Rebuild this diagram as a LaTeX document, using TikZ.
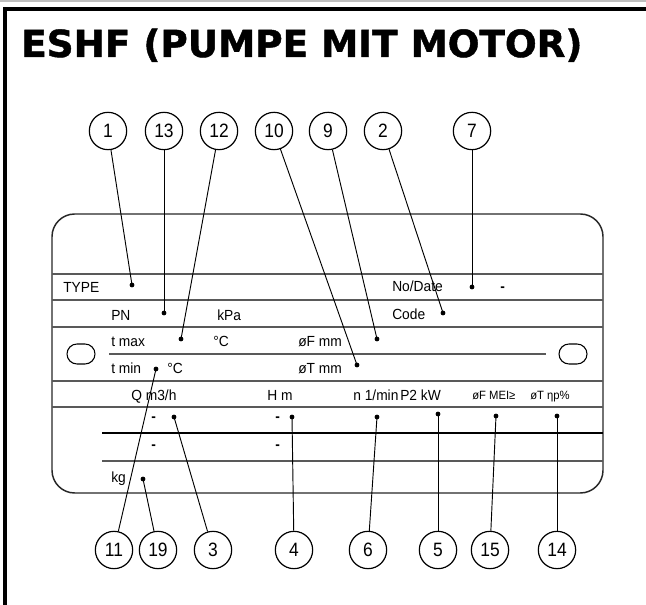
\documentclass[tikz,border=0pt]{standalone}
\usepackage{fontspec}
\setmainfont[FakeStretch=0.94]{Liberation Sans}
\newfontfamily\numfont[FakeStretch=0.9]{Liberation Sans}
\newfontfamily\titlefont[FakeBold=1.2]{DejaVu Sans Bold}
\begin{document}
\begin{tikzpicture}[x=0.75pt,y=-0.75pt,
  lbl/.style={anchor=base west, inner sep=0, font=\fontsize{11}{12}\selectfont},
  slbl/.style={anchor=base west, inner sep=0, font=\fontsize{9}{10}\selectfont},
  num/.style={draw, circle, minimum size=28pt, inner sep=0, line width=0.9pt, font=\numfont\fontsize{14.5}{15}\selectfont},
  dotn/.style={circle, fill, inner sep=0, minimum size=3.6pt},
  conn/.style={line width=0.7pt},
  rowline/.style={draw=black!65, line width=1pt},
  bardash/.style={anchor=base west, inner sep=0, font=\bfseries\fontsize{11}{12}\selectfont},
  oval/.style={draw, rounded corners=7.5pt, minimum width=21pt, minimum height=15pt, inner sep=0, line width=0.8pt}
]
\useasboundingbox (0,0) rectangle (646,605);
% frame
\draw[black!25, line width=1.2pt] (0,1) -- (646,1);
\draw[line width=2.4pt] (5,605) -- (5,9) -- (646,9);
\node[anchor=base west, inner sep=0, font=\titlefont\fontsize{28}{30}\selectfont] (title) at (21,57) {ESHF (PUMPE MIT MOTOR)};
% plate
\draw[black!85, line width=1.1pt, rounded corners=17pt] (52,214) rectangle (603,493);
\draw[rowline] (52,274) -- (603,274);
\draw[rowline] (52,300) -- (603,300);
\draw[rowline] (52,327) -- (603,327);
\draw[rowline] (109,354) -- (546,354);
\draw[rowline] (52,381) -- (603,381);
\draw[rowline] (52,407) -- (603,407);
\draw[rowline, draw=black] (102,433) -- (603,433);
\draw[rowline] (102,461) -- (603,461);
\node[oval] (ovl) at (81,354) {};
\node[oval] (ovr) at (573,354) {};
% texts
\node[lbl] (tType) at (63,293) {TYPE};
\node[lbl] (tPN) at (111,321) {PN};
\node[lbl] (tkPa) at (217,321) {kPa};
\node[lbl] (tTmax) at (111,347) {t max};
\node[lbl] (tC1) at (213,347) {°C};
\node[lbl] (tFmm) at (298,347) {øF mm};
\node[lbl] (tTmin) at (111,374) {t min};
\node[lbl] (tC2) at (167,374) {°C};
\node[lbl] (tTmm) at (298,374) {øT mm};
\node[lbl] (tNo) at (392,292) {No/Date};
\node[lbl] (tCode) at (392,320) {Code};
\node[lbl] (tQ) at (131,401) {Q m3/h};
\node[lbl] (tH) at (267,401) {H m};
\node[lbl] (tn) at (353,401) {n 1/min};
\node[lbl] (tP2) at (400,401) {P2 kW};
\node[slbl] (tMEI) at (472,400) {øF MEI≥};
\node[slbl] (tEta) at (530,400) {øT ηp\%};
\node[lbl] (tkg) at (111,483) {kg};
\node[bardash] (d0) at (500,292) {-};
\node[bardash] (d1) at (151,422) {-};
\node[bardash] (d2) at (151,450) {-};
\node[bardash] (d3) at (275,422) {-};
\node[bardash] (d4) at (275,450) {-};
% dots
\node[dotn] (p1) at (132,285) {};
\node[dotn] (p13) at (164,313) {};
\node[dotn] (p12) at (181,339) {};
\node[dotn] (p10) at (357,365) {};
\node[dotn] (p9) at (377,339) {};
\node[dotn] (p2) at (443,313) {};
\node[dotn] (p7) at (472,287) {};
\node[dotn] (p11) at (156,369) {};
\node[dotn] (p19) at (143,479) {};
\node[dotn] (p3) at (174,417) {};
\node[dotn] (p4) at (292,417) {};
\node[dotn] (p6) at (377,417) {};
\node[dotn] (p5) at (438,414) {};
\node[dotn] (p15) at (496,416) {};
\node[dotn] (p14) at (557,416) {};
% top circles
\node[num] (c1) at (108,131) {1};
\node[num] (c13) at (164,131) {13};
\node[num] (c12) at (219,131) {12};
\node[num] (c10) at (274,131) {10};
\node[num] (c9) at (328,131) {9};
\node[num] (c2) at (383,131) {2};
\node[num] (c7) at (472,131) {7};
% bottom circles
\node[num] (c11) at (114,550) {11};
\node[num] (c19) at (158,550) {19};
\node[num] (c3) at (213,550) {3};
\node[num] (c4) at (294,550) {4};
\node[num] (c6) at (368,550) {6};
\node[num] (c5) at (438,550) {5};
\node[num] (c15) at (490,550) {15};
\node[num] (c14) at (557,550) {14};
% connectors
\foreach \a/\b in {c1/p1,c13/p13,c12/p12,c10/p10,c9/p9,c2/p2,c7/p7,c11/p11,c19/p19,c3/p3,c4/p4,c6/p6,c5/p5,c15/p15,c14/p14}
  \draw[conn] (\a) -- (\b.center);
\end{tikzpicture}
\end{document}
